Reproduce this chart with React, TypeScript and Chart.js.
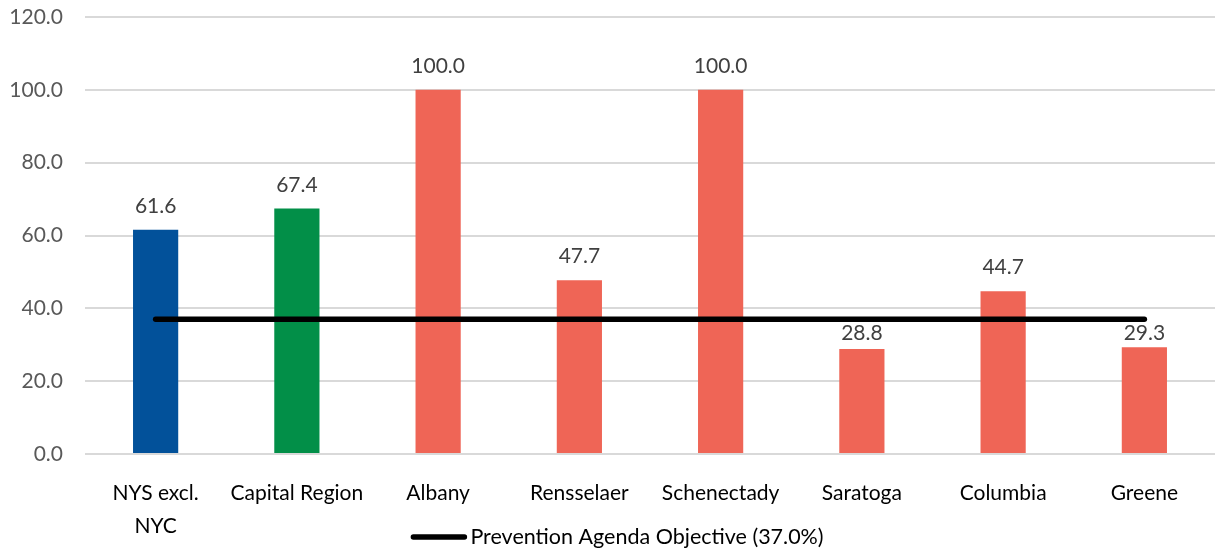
import React, { useEffect, useRef } from "react";
import { Chart, registerables } from "chart.js";

Chart.register(...registerables);

const categories: (string | string[])[] = [
  ["NYS excl.", "NYC"],
  "Capital Region",
  "Albany",
  "Rensselaer",
  "Schenectady",
  "Saratoga",
  "Columbia",
  "Greene",
];
const values = [61.6, 67.4, 100.0, 47.7, 100.0, 28.8, 44.7, 29.3];
const objective = [37.0, 37.0, 37.0, 37.0, 37.0, 37.0, 37.0, 37.0];
const barColors = ["#02519a", "#028f48", "#ef6556", "#ef6556", "#ef6556", "#ef6556", "#ef6556", "#ef6556"];
const objectiveLabel = "Prevention Agenda Objective (37.0%)";
const yTicks = [0, 20, 40, 60, 80, 100, 120];

const FONT = "Lato, 'Open Sans', sans-serif";

const valueLabels = {
  id: "valueLabels",
  afterDatasetsDraw(chart: any) {
    const ctx = chart.ctx;
    const meta = chart.getDatasetMeta(0);
    const lineMeta = chart.getDatasetMeta(1);
    ctx.save();
    ctx.font = `21px ${FONT}`;
    ctx.fillStyle = "#404040";
    ctx.textAlign = "center";
    ctx.textBaseline = "alphabetic";
    const digitH = 15;
    meta.data.forEach((el: any, i: number) => {
      let base = el.y - 17;
      const lineY = lineMeta.data[i] ? lineMeta.data[i].y : -1000;
      const top = base - digitH;
      if (top < lineY + 5 && base > lineY - 4) {
        base = lineY + 21;
      }
      ctx.fillText(values[i].toFixed(1), el.x, base);
    });
    ctx.restore();
  },
};

const bottomLegend = {
  id: "bottomLegend",
  afterDraw(chart: any) {
    const ctx = chart.ctx;
    const ds = chart.data.datasets[1];
    ctx.save();
    ctx.font = `21.5px ${FONT}`;
    const textW = ctx.measureText(ds.label).width;
    const lineW = 55;
    const gap = 4;
    const total = lineW + gap + textW;
    const x0 = (chart.width - total) / 2 + 10;
    const y = chart.height - 15;
    ctx.strokeStyle = ds.borderColor;
    ctx.lineWidth = 5.5;
    ctx.lineCap = "round";
    ctx.beginPath();
    ctx.moveTo(x0 + 2, y);
    ctx.lineTo(x0 + lineW - 2, y);
    ctx.stroke();
    ctx.fillStyle = "#000000";
    ctx.textAlign = "left";
    ctx.textBaseline = "middle";
    ctx.fillText(ds.label, x0 + lineW + gap, y);
    ctx.restore();
  },
};

export default function App() {
  const ref = useRef<HTMLCanvasElement>(null);
  useEffect(() => {
    document.body.style.margin = "0";
    const chart = new Chart(ref.current!, {
      type: "bar",
      data: {
        labels: categories,
        datasets: [
          {
            type: "bar",
            label: "Values",
            data: values,
            backgroundColor: barColors,
            barPercentage: 0.32,
            categoryPercentage: 1,
            order: 2,
          },
          {
            type: "line",
            label: objectiveLabel,
            data: objective,
            borderColor: "#000000",
            backgroundColor: "#000000",
            borderWidth: 5.5,
            borderCapStyle: "round",
            pointRadius: 0,
            order: 1,
          } as any,
        ],
      },
      options: {
        animation: false,
        responsive: true,
        maintainAspectRatio: false,
        layout: { padding: { top: 17, left: 0, right: 0, bottom: 0 } },
        plugins: {
          tooltip: { enabled: false },
          legend: { display: false },
        },
        scales: {
          x: {
            grid: { display: false },
            border: { display: false },
            ticks: {
              color: "#000000",
              font: { family: FONT, size: 21, lineHeight: 1.55 },
              maxRotation: 0,
              autoSkip: false,
              padding: 15,
            },
            afterFit: (s: any) => {
              s.height = 98;
            },
          },
          y: {
            min: 0,
            max: 120,
            afterBuildTicks: (s: any) => {
              s.ticks = yTicks.map((v) => ({ value: v }));
            },
            grid: { color: "#d9d9d9", lineWidth: 2, drawTicks: false },
            border: { display: false },
            ticks: {
              color: "#595959",
              font: { family: FONT, size: 21 },
              padding: 22,
              callback: (v: any) => Number(v).toFixed(1),
            },
            afterFit: (s: any) => {
              s.width = 85;
              s.paddingTop = 0;
              s.paddingBottom = 0;
            },
          },
        },
      },
      plugins: [valueLabels, bottomLegend],
    });
    return () => chart.destroy();
  }, []);
  return (
    <div style={{ position: "relative", width: 1215, height: 552 }}>
      <canvas ref={ref} />
    </div>
  );
}
